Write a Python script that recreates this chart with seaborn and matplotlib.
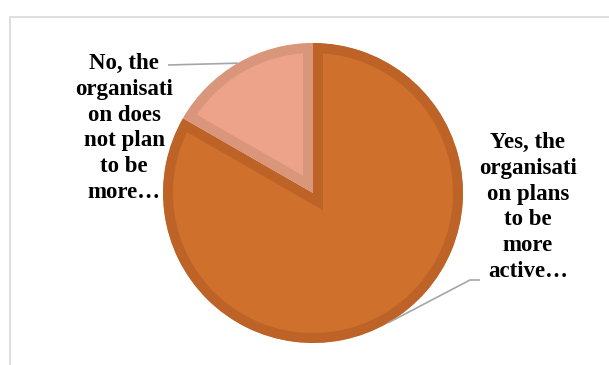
import numpy as np
import matplotlib
matplotlib.use("Agg")
import matplotlib.pyplot as plt
from matplotlib.patches import Rectangle
import seaborn as sns

# Survey answer shares (percent), listed clockwise from 12 o'clock
answers = [
    "Yes, the\norganisati\non plans\nto be\nmore\nactive…",
    "No, the\norganisati\non does\nnot plan\nto be\nmore…",
]
shares = [83.3, 16.7]
fill_colors = ["#D0702D", "#EDA389"]
edge_colors = ["#BE6328", "#D9967A"]

sns.set_theme(style="white")
plt.rcParams["font.family"] = ["Liberation Serif", "DejaVu Serif"]

W, H = 609, 365
fig = plt.figure(figsize=(W / 100, H / 100), dpi=100)
ax = fig.add_axes([0, 0, 1, 1])
ax.axis("off")

# chart-area frame, running past the right and bottom edges
ax.add_patch(Rectangle((9.5, -20), 700, H - 16.5 + 20, fill=False,
                       edgecolor="#D9D9D9", linewidth=1.2))

cx, cy, r = 313, H - 193, 150
wedges, _ = ax.pie(shares, colors=fill_colors, startangle=90,
                   counterclock=False, center=(cx, cy), radius=r,
                   wedgeprops=dict(linewidth=14.4))
ax.set_xlim(0, W)
ax.set_ylim(0, H)
ax.set_aspect("equal")
for w, ec in zip(wedges, edge_colors):
    w.set_edgecolor(ec)
    w.set_joinstyle("miter")
    w.set_clip_on(True)
    w.set_clip_path(w)  # keep the outline inside its own slice

leader = dict(color="#A6A6A6", lw=1.2, solid_capstyle="butt")
txt = dict(fontsize=16.5, fontweight="bold", ha="center", va="center",
           linespacing=1.3, color="#000000")

# "Yes" slice: leader from the middle of its arc out to the lower right
mid_yes = np.deg2rad((wedges[0].theta1 + wedges[0].theta2) / 2)
p0 = (cx + r * np.cos(mid_yes), cy + r * np.sin(mid_yes))
ax.plot([p0[0], 470, 480], [p0[1], H - 280, H - 280], **leader)
ax.text(528, H - 207, answers[0], **txt)

# "No" slice: leader from the middle of its arc out to the left
mid_no = np.deg2rad((wedges[1].theta1 + wedges[1].theta2) / 2)
p1 = (cx + r * np.cos(mid_no), cy + r * np.sin(mid_no))
ax.plot([p1[0], 168], [p1[1], H - 65], **leader)
ax.text(124, H - 128, answers[1], **txt)

fig.savefig("out.png", dpi=100)
